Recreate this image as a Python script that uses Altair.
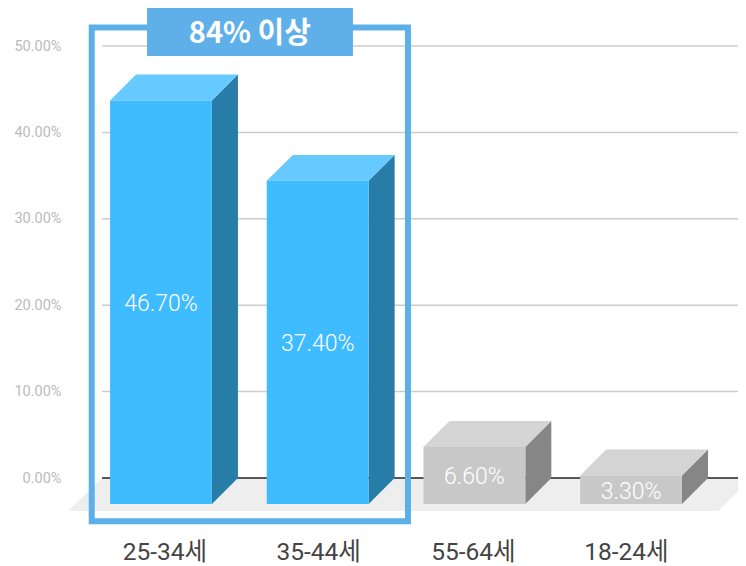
import altair as alt
import pandas as pd

categories = ["25-34세", "35-44세", "55-64세", "18-24세"]
values = [46.7, 37.4, 6.6, 3.3]
highlighted = [True, True, False, False]
label_nudge = [0.025, 0.006, -0.006, -0.03]
y_ticks = [0, 10, 20, 30, 40, 50]

HALF = 0.325      # half bar width, in category steps
DX = 0.166        # depth, in category steps
DY = 3.0          # depth, in value units
FONT = "Roboto, 'Noto Sans CJK KR', sans-serif"
X_END = 3.6823    # where the grid and floor run to

x_scale = alt.Scale(domain=[-0.3765, 3.6823], nice=False, zero=False)
y_scale = alt.Scale(domain=[-10.185, 54.4], nice=False, zero=False)

front_pal = alt.Scale(domain=[True, False], range=["#3fbcff", "#c8c8c8"])
top_pal = alt.Scale(domain=[True, False], range=["#66c9ff", "#d4d4d4"])
side_pal = alt.Scale(domain=[True, False], range=["#277ca8", "#868686"])

X = alt.X("x:Q", scale=x_scale, axis=None)
Y = alt.Y("y:Q", scale=y_scale, title=None,
          axis=alt.Axis(values=y_ticks, format=".2f", labelExpr="datum.label + '%'",
                        domain=False, ticks=False, grid=False, labelPadding=41,
                        labelColor="#bbbbbb", labelFont=FONT, labelFontSize=14.5))

front_rows, top_rows, side_rows, label_rows = [], [], [], []
for i, (c, v, h) in enumerate(zip(categories, values, highlighted)):
    l, r = i - HALF, i + HALF
    front_rows.append({"x": l, "x2": r, "y": v - DY, "y2": -DY, "h": h})
    for px, up, lo in [(l, v - DY, v - DY), (l + DX, v, v - DY), (r, v, v - DY), (r + DX, v, v)]:
        top_rows.append({"x": px, "y": up, "y2": lo, "h": h, "id": c})
    for px, up, lo in [(r, v - DY, -DY), (r + DX, v, 0)]:
        side_rows.append({"x": px, "y": up, "y2": lo, "h": h, "id": c})
    label_rows.append({"x": i, "y": v / 2 - DY - 0.22, "t": f"{v:.2f}%",
                       "xl": i + label_nudge[i], "yl": -8.68, "c": c})

front = pd.DataFrame(front_rows)
top = pd.DataFrame(top_rows)
side = pd.DataFrame(side_rows)
labels = pd.DataFrame(label_rows)

floor = pd.DataFrame({
    "x": [-0.5935, -0.3765, 3.555, 3.772],
    "y": [-3.82, 0, 0, 0],
    "y2": [-3.82, -3.82, -3.82, 0],
})
grid_df = pd.DataFrame({"y": y_ticks[1:], "x": [-0.3765] * 5, "x2": [X_END] * 5})
zero_line = pd.DataFrame({"y": [0], "x": [-0.3765], "x2": [X_END]})
frame = pd.DataFrame({"x": [-0.442], "x2": [1.576], "y": [52.14], "y2": [-5.01]})
banner = pd.DataFrame({"x": [-0.089], "x2": [1.225], "y": [54.4], "y2": [48.84]})
banner_text = pd.DataFrame({"x": [0.567], "y": [51.4], "t": ["84% 이상"]})

grid_layer = alt.Chart(grid_df).mark_rule(color="#cccccc", strokeWidth=1.5).encode(
    x=X, x2="x2:Q", y=Y)
floor_layer = alt.Chart(floor).mark_area(color="#eeeeee").encode(x=X, y=Y, y2="y2:Q")
zero_layer = alt.Chart(zero_line).mark_rule(color="#222222", strokeWidth=1.3).encode(
    x=X, x2="x2:Q", y=Y)

side_layer = alt.Chart(side).mark_area().encode(
    x=X, y=Y, y2="y2:Q", detail="id:N",
    color=alt.Color("h:N", scale=side_pal, legend=None))
top_layer = alt.Chart(top).mark_area().encode(
    x=X, y=Y, y2="y2:Q", detail="id:N",
    color=alt.Color("h:N", scale=top_pal, legend=None))
front_layer = alt.Chart(front).mark_rect().encode(
    x=X, x2="x2:Q", y=Y, y2="y2:Q",
    color=alt.Color("h:N", scale=front_pal, legend=None))

value_text = alt.Chart(labels).mark_text(
    color="white", font=FONT, fontSize=23, fontWeight=300, baseline="middle").encode(
    x=X, y=Y, text="t:N")
cat_text = alt.Chart(labels).mark_text(
    color="#444444", font=FONT, fontSize=24.5, baseline="middle").encode(
    x=alt.X("xl:Q", scale=x_scale, axis=None),
    y=alt.Y("yl:Q", scale=y_scale, title=None), text="c:N")

frame_layer = alt.Chart(frame).mark_rect(
    filled=False, stroke="#5dafea", strokeWidth=6).encode(
    x=X, x2="x2:Q", y=Y, y2="y2:Q")
banner_layer = alt.Chart(banner).mark_rect(color="#5fafe8").encode(
    x=X, x2="x2:Q", y=Y, y2="y2:Q")
banner_label = alt.Chart(banner_text).mark_text(
    color="white", font="'Noto Sans CJK KR', sans-serif",
    fontWeight="bold", fontSize=29, baseline="middle").encode(x=X, y=Y, text="t:N")

chart = alt.layer(
    grid_layer, floor_layer, zero_layer, side_layer, top_layer, front_layer,
    value_text, cat_text, frame_layer, banner_layer, banner_label,
).resolve_scale(color="independent").properties(
    width=636, height=558,
    background="white",
    autosize=alt.AutoSizeParams(type="none"),
    padding={"left": 94, "top": 0, "right": 0, "bottom": 0},
).configure_view(stroke=None)

chart.save("out.html", embed_options={"renderer": "svg", "actions": False})
